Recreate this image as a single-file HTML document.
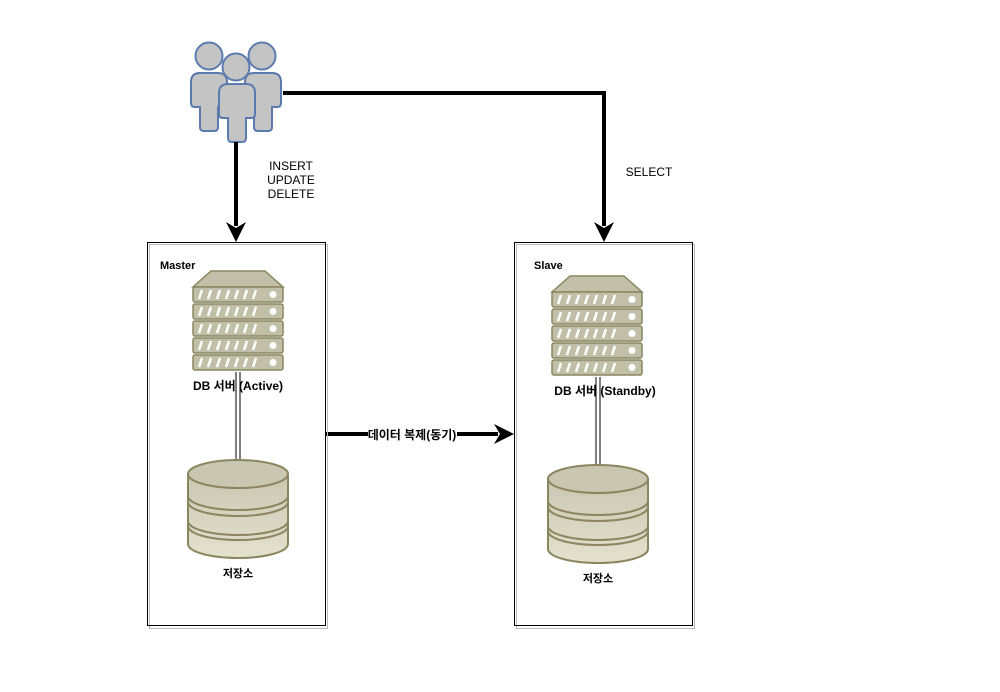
<!DOCTYPE html>
<html><head><meta charset="utf-8"><style>
html,body{margin:0;padding:0;background:#fff;}
svg{display:block;}
text{font-family:"Liberation Sans","Noto Sans CJK KR",sans-serif;}
</style></head><body>
<svg width="1000" height="692" viewBox="0 0 1000 692" xmlns="http://www.w3.org/2000/svg">
<defs>
<linearGradient id="cg" x1="0" y1="0" x2="0" y2="1"><stop offset="0" stop-color="#c9c7b2"/><stop offset="1" stop-color="#e4e2cf"/></linearGradient>
<g id="row">
<rect x="0" y="0" width="90" height="15" rx="2" fill="#c2bfa8" stroke="#8a8760" stroke-width="1.5"/>
<g stroke="#fff" stroke-width="2.5">
<line x1="6" y1="12" x2="9" y2="3"/><line x1="15" y1="12" x2="18" y2="3"/><line x1="24" y1="12" x2="27" y2="3"/><line x1="33" y1="12" x2="36" y2="3"/><line x1="42" y1="12" x2="45" y2="3"/><line x1="51" y1="12" x2="54" y2="3"/><line x1="60" y1="12" x2="63" y2="3"/>
</g>
<circle cx="80" cy="7.5" r="3.5" fill="#fff"/>
</g>
<g id="server">
<polygon points="0,16 90,16 72,0 18,0" fill="#c2bfa8" stroke="#8a8760" stroke-width="1.5"/>
<use href="#row" y="16"/><use href="#row" y="33"/><use href="#row" y="50"/><use href="#row" y="67"/><use href="#row" y="84"/>
</g>
<g id="cyl" stroke="#8a8760" stroke-width="2" fill="url(#cg)">
<path d="M0,15 L0,85 A50,14 0 0 0 100,85 L100,15"/>
<path d="M0,37 A50,14 0 0 0 100,37" fill="none"/>
<path d="M0,43 A50,14 0 0 0 100,43" fill="none"/>
<path d="M0,62 A50,14 0 0 0 100,62" fill="none"/>
<path d="M0,67 A50,14 0 0 0 100,67" fill="none"/>
<ellipse cx="50" cy="15" rx="50" ry="14" fill="#c9c7b2"/>
</g>
<g id="person" fill="#c4c4c4" stroke="#5b7bae" stroke-width="2">
<path d="M9,0 H27 Q36,0 36,9 V30 Q36,34 32,34 H27 V54 Q27,58 23,58 H13 Q9,58 9,54 V34 H4 Q0,34 0,30 V9 Q0,0 9,0 Z"/>
</g>
</defs>

<use href="#person" x="191" y="73"/>
<circle cx="209" cy="56" r="13.5" fill="#c4c4c4" stroke="#5b7bae" stroke-width="2"/>
<use href="#person" x="245" y="73"/>
<circle cx="262" cy="56" r="13.5" fill="#c4c4c4" stroke="#5b7bae" stroke-width="2"/>
<circle cx="236" cy="67" r="13.5" fill="#c4c4c4" stroke="#5b7bae" stroke-width="2"/>
<use href="#person" x="219" y="84"/>

<g stroke="#000" stroke-width="4" fill="none">
<line x1="236" y1="142" x2="236" y2="226"/>
<polyline points="283,93 604,93 604,226"/>
<line x1="326" y1="434" x2="368" y2="434"/>
<line x1="457" y1="434" x2="498" y2="434"/>
</g>
<polygon points="236,242 226,222 236,228 246,222" fill="#000"/>
<polygon points="604,242 594,222 604,228 614,222" fill="#000"/>
<polygon points="514,434 494,424 500,434 494,444" fill="#000"/>

<text x="291" y="170" font-size="12" text-anchor="middle">INSERT</text>
<text x="291" y="184" font-size="12" text-anchor="middle">UPDATE</text>
<text x="291" y="198" font-size="12" text-anchor="middle">DELETE</text>
<text x="649" y="176" font-size="12" text-anchor="middle">SELECT</text>
<text x="412" y="439" font-size="12" font-weight="bold" text-anchor="middle">데이터 복제(동기)</text>

<rect x="149.5" y="244.5" width="178" height="384" fill="none" stroke="#bbb" stroke-width="1"/>
<rect x="147.5" y="242.5" width="178" height="383" fill="none" stroke="#000" stroke-width="1"/>
<text x="160" y="269" font-size="11" font-weight="bold">Master</text>
<use href="#server" x="193" y="271"/>
<text x="238" y="390" font-size="12" font-weight="bold" text-anchor="middle">DB 서버   (Active)</text>
<line x1="236" y1="372" x2="236" y2="460" stroke="#000" stroke-width="1"/>
<line x1="240" y1="372" x2="240" y2="460" stroke="#000" stroke-width="1"/>
<use href="#cyl" x="188" y="459"/>
<text x="238" y="577" font-size="11" font-weight="bold" text-anchor="middle">저장소</text>

<rect x="516.5" y="244.5" width="178" height="384" fill="none" stroke="#bbb" stroke-width="1"/>
<rect x="514.5" y="242.5" width="178" height="383" fill="none" stroke="#000" stroke-width="1"/>
<text x="534" y="269" font-size="11" font-weight="bold">Slave</text>
<use href="#server" x="552" y="276"/>
<text x="605" y="395" font-size="12" font-weight="bold" text-anchor="middle">DB 서버   (Standby)</text>
<line x1="596" y1="377" x2="596" y2="465" stroke="#000" stroke-width="1"/>
<line x1="600" y1="377" x2="600" y2="465" stroke="#000" stroke-width="1"/>
<use href="#cyl" x="548" y="464"/>
<text x="598" y="582" font-size="11" font-weight="bold" text-anchor="middle">저장소</text>
</svg>
</body></html>
